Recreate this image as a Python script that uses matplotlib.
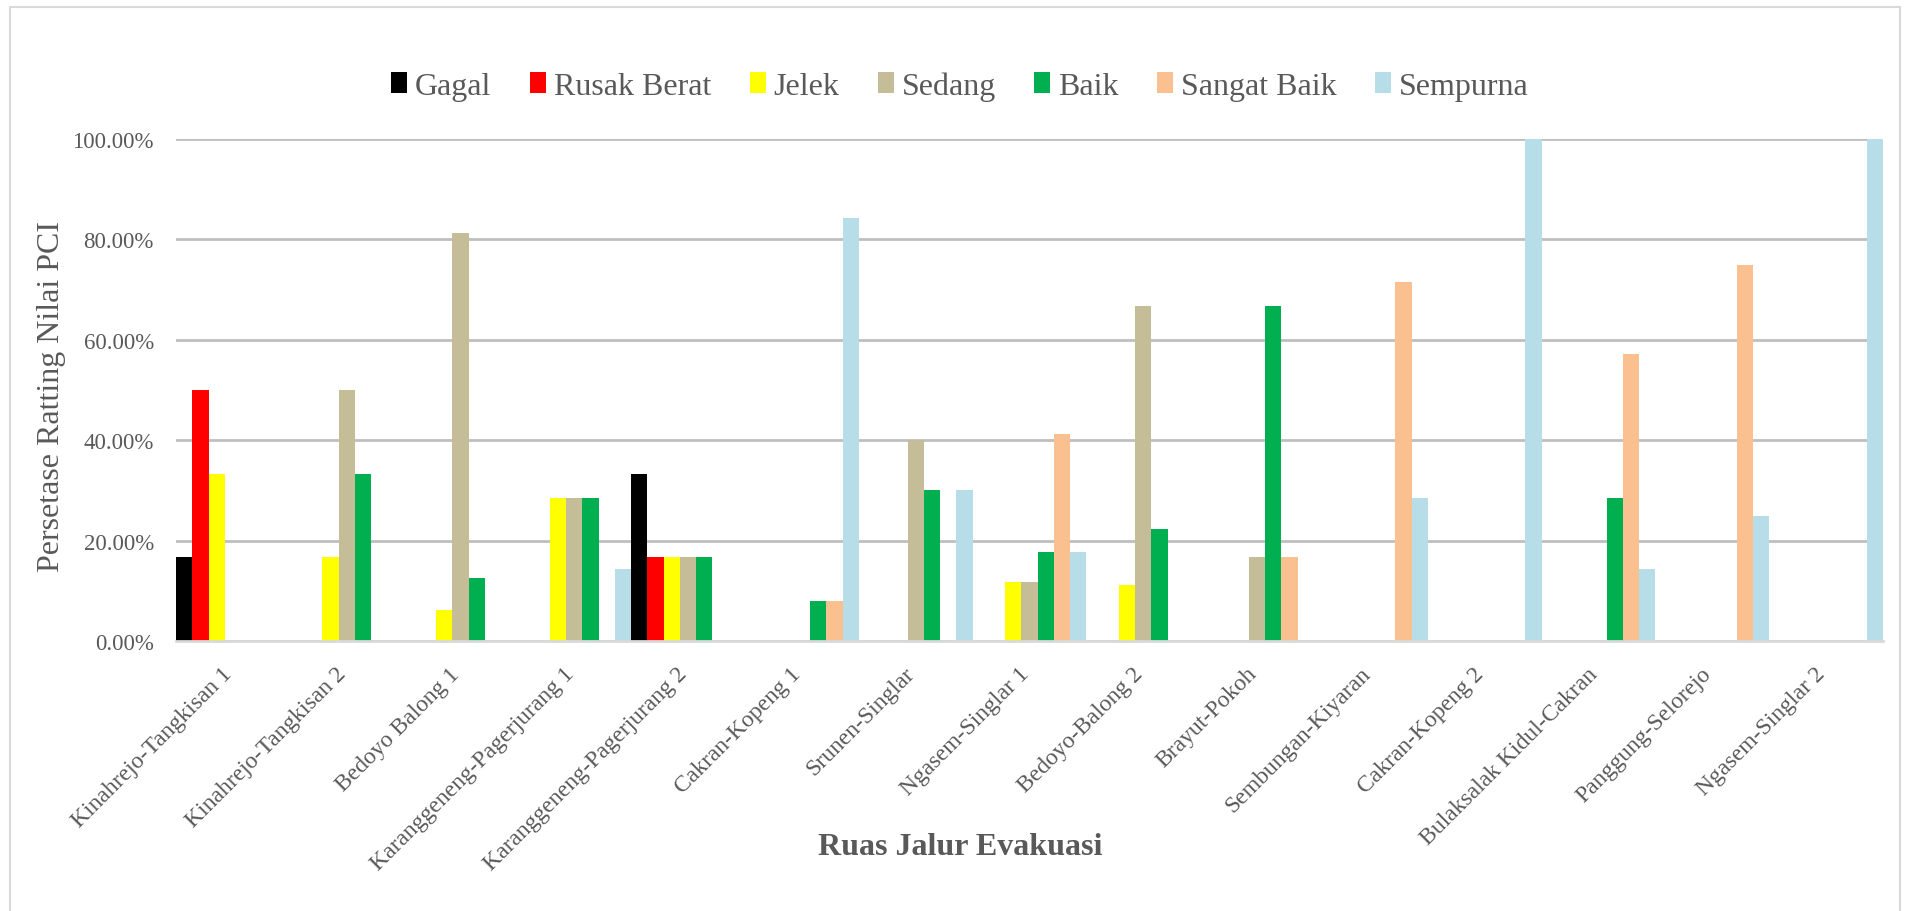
import numpy as np
import matplotlib.pyplot as plt
from matplotlib.patches import Rectangle

# Ruas jalur evakuasi dan persentase rating PCI tiap kategori
ruas = ["Kinahrejo-Tangkisan 1", "Kinahrejo-Tangkisan 2", "Bedoyo Balong 1",
        "Karanggeneng-Pagerjurang 1", "Karanggeneng-Pagerjurang 2", "Cakran-Kopeng 1",
        "Srunen-Singlar", "Ngasem-Singlar 1", "Bedoyo-Balong 2", "Brayut-Pokoh",
        "Sembungan-Kiyaran", "Cakran-Kopeng 2", "Bulaksalak Kidul-Cakran",
        "Panggung-Selorejo", "Ngasem-Singlar 2"]

gagal       = [16.67, 0, 0, 0, 33.33, 0, 0, 0, 0, 0, 0, 0, 0, 0, 0]
rusak_berat = [50.00, 0, 0, 0, 16.67, 0, 0, 0, 0, 0, 0, 0, 0, 0, 0]
jelek       = [33.33, 16.67, 6.25, 28.57, 16.67, 0, 0, 11.76, 11.11, 0, 0, 0, 0, 0, 0]
sedang      = [0, 50.00, 81.25, 28.57, 16.67, 0, 40.00, 11.76, 66.67, 16.67, 0, 0, 0, 0, 0]
baik        = [0, 33.33, 12.50, 28.57, 16.67, 7.89, 30.00, 17.65, 22.22, 66.67, 0, 0, 28.57, 0, 0]
sangat_baik = [0, 0, 0, 0, 0, 7.89, 0, 41.18, 0, 16.67, 71.43, 0, 57.14, 75.00, 0]
sempurna    = [0, 0, 0, 14.29, 0, 84.21, 30.00, 17.65, 0, 0, 28.57, 100.00, 14.29, 25.00, 100.00]

series = [("Gagal", gagal, "#000000"),
          ("Rusak Berat", rusak_berat, "#FF0000"),
          ("Jelek", jelek, "#FFFF00"),
          ("Sedang", sedang, "#C4BD97"),
          ("Baik", baik, "#00B050"),
          ("Sangat Baik", sangat_baik, "#FAC090"),
          ("Sempurna", sempurna, "#B7DEE8")]

plt.rcParams['font.family'] = ['Liberation Serif', 'DejaVu Serif']
txt = "#595959"

fig = plt.figure(figsize=(19.06, 9.12), dpi=100)
ax = fig.add_axes([176/1906, 1 - 642/912, (1883 - 176)/1906, (642 - 140)/912])

x = np.arange(len(ruas))
w = 1/7
for i, (nama, vals, warna) in enumerate(series):
    ax.bar(x - 0.5 + w*(i + 0.5), np.array(vals)/100, width=w, color=warna,
           label=nama, zorder=3, linewidth=0)

ax.set_xlim(-0.5, len(ruas) - 0.5)
ax.set_ylim(0, 1)
ax.set_yticks(np.arange(0, 1.01, 0.2))
ax.set_yticklabels([f"{v*100:.2f}%" for v in np.arange(0, 1.01, 0.2)],
                   fontsize=16.5, color=txt)
ax.tick_params(axis='y', length=0, pad=16)
ax.tick_params(axis='x', length=0)
ax.grid(axis='y', color="#BFBFBF", linewidth=2, zorder=0)
for s in ["left", "right", "top"]:
    ax.spines[s].set_visible(False)
ax.spines["bottom"].set_color("#D9D9D9")
ax.spines["bottom"].set_linewidth(2)
ax.spines["bottom"].set_zorder(4)

# label ruas miring 45 derajat, ujung teks di tengah kategori
ax.set_xticks(x)
ax.set_xticklabels([])
for xi, nama in zip(x, ruas):
    ax.annotate(nama, xy=(xi, 0), xycoords=('data', 'axes fraction'),
                xytext=(0, -24), textcoords='offset points',
                rotation=45, rotation_mode='anchor', ha='right', va='baseline',
                fontsize=17, color=txt)

fig.text(52/1906, 1 - 397/912, "Persetase Ratting Nilai PCI", rotation=90,
         ha='center', va='center', fontsize=23, color=txt)
fig.text(960/1906, 1 - 848/912, "Ruas Jalur Evakuasi", ha='center', va='center',
         fontsize=23, fontweight='bold', color=txt)

fig.legend(loc='center', bbox_to_anchor=(960/1906, 1 - 87/912), ncol=7,
           frameon=False, fontsize=23, handlelength=0.5, handleheight=0.6,
           handletextpad=0.25, columnspacing=1.2, labelcolor=txt)

fig.patches.append(Rectangle((10/1906, -0.01), 1890/1906, 1.01 - 8/912,
                             transform=fig.transFigure, fill=False,
                             edgecolor="#D9D9D9", linewidth=1.5))

fig.savefig("out.png", dpi=100)
